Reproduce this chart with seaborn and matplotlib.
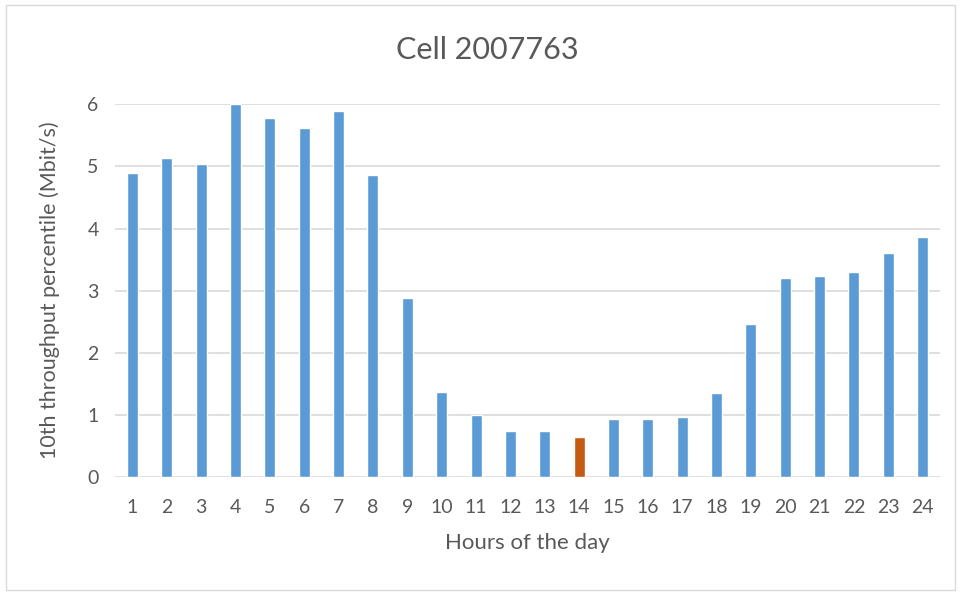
import matplotlib
matplotlib.use("Agg")
import matplotlib.pyplot as plt
import seaborn as sns
import pandas as pd
from matplotlib.patches import Rectangle

hours = [str(h) for h in range(1, 25)]
throughput = [4.89, 5.14, 5.03, 6.00, 5.77, 5.61, 5.89, 4.86, 2.89, 1.37, 1.00, 0.75,
              0.75, 0.64, 0.94, 0.94, 0.96, 1.35, 2.46, 3.20, 3.24, 3.30, 3.60, 3.87]
highlight_hour = "14"

sns.set_style("white")
plt.rcParams["font.family"] = ["Lato", "DejaVu Sans"]

df = pd.DataFrame({"hour": hours, "value": throughput})
df["group"] = ["min" if h == highlight_hour else "normal" for h in hours]

fig = plt.figure(figsize=(9.61, 5.92), dpi=100)
ax = fig.add_axes([0.12, 0.194, 0.858, 0.63])
sns.barplot(data=df, x="hour", y="value", hue="group",
            palette={"normal": "#5B9BD5", "min": "#C55A11"}, saturation=1,
            width=0.32, dodge=False, legend=False, ax=ax, zorder=3)

text_c = "#595959"
ax.set_ylim(0, 6)
ax.set_yticks(range(0, 7))
ax.grid(axis="y", color="#D9D9D9", linewidth=1.2, zorder=0)
for s in ax.spines.values():
    s.set_visible(False)
ax.tick_params(axis="x", length=0, labelsize=14, colors=text_c, pad=16)
ax.tick_params(axis="y", length=0, labelsize=14, colors=text_c, pad=12)
ax.set_xlabel("Hours of the day", fontsize=16, color=text_c, labelpad=12)
ax.set_ylabel("10th throughput percentile (Mbit/s)", fontsize=15.5, color=text_c, labelpad=20)
fig.text(0.507, 0.915, "Cell 2007763", fontsize=22, color=text_c, ha="center", va="center")

fig.patches.append(Rectangle((0.006, 0.004), 0.988, 0.988, transform=fig.transFigure,
                             fill=False, edgecolor="#D9D9D9", linewidth=1))

fig.savefig("out.png", dpi=100)
